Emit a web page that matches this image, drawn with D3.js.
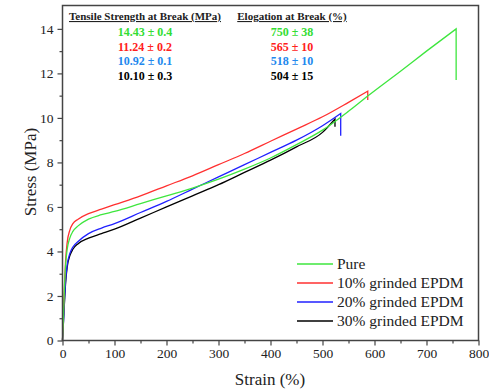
<!DOCTYPE html>
<html>
<head>
<meta charset="utf-8">
<script src="https://cdn.jsdelivr.net/npm/d3@7"></script>
<style>
  html, body { margin: 0; padding: 0; background: #fff; }
  svg text { font-family: "Liberation Serif", "Times New Roman", serif; }
</style>
</head>
<body>
<div id="chart"></div>
<script>
// Stress-strain curves, values
const seriesNames = ["Pure", "10% grinded EPDM", "20% grinded EPDM", "30% grinded EPDM"];
const seriesColors = ["#3ee63e", "#ff3030", "#2020ff", "#000000"];
const textColors = ["#33dd33", "#ff2020", "#2288ee", "#000000"];

const purePts = [[0,0],[2,1.2],[4,2.5],[6,3.4],[9,4.1],[14,4.6],[20,4.9],[30,5.15],[50,5.45],[75,5.65],[100,5.8],[150,6.15],[200,6.5],[250,6.85],[300,7.25],[350,7.7],[400,8.2],[450,8.8],[500,9.45],[550,10.3],[585,10.95],[650,12.1],[700,13.0],[757,14.0]];
const g10Pts = [[0,0],[2,1.3],[4,2.6],[6,3.6],[9,4.4],[14,4.95],[20,5.25],[30,5.45],[50,5.7],[75,5.9],[100,6.1],[150,6.5],[200,6.95],[250,7.4],[300,7.9],[350,8.4],[400,8.95],[450,9.5],[500,10.05],[550,10.7],[587,11.2]];
const g20Pts = [[0,0],[2,0.9],[4,1.9],[6,2.7],[9,3.4],[14,3.9],[20,4.2],[30,4.45],[50,4.8],[75,5.05],[100,5.25],[150,5.75],[200,6.25],[250,6.8],[300,7.35],[350,7.9],[400,8.45],[450,9.0],[500,9.65],[535,10.2]];
const g30Pts = [[0,0],[2,0.9],[4,1.8],[6,2.6],[9,3.3],[14,3.8],[20,4.1],[30,4.35],[50,4.6],[75,4.8],[100,5.0],[150,5.5],[200,6.0],[250,6.5],[300,7.0],[350,7.55],[400,8.1],[450,8.7],[500,9.35],[524,9.95]];
// stress after the break drop
const breakDrop = [11.7, 10.8, 9.2, 9.6];

const strengthLabels = ["14.43 \u00b1 0.4", "11.24 \u00b1 0.2", "10.92 \u00b1 0.1", "10.10 \u00b1 0.3"];
const elongLabels = ["750 \u00b1 38", "565 \u00b1 10", "518 \u00b1 10", "504 \u00b1 15"];

const xTicks = [0, 100, 200, 300, 400, 500, 600, 700, 800];
const yTicks = [0, 2, 4, 6, 8, 10, 12, 14];

const width = 489, height = 389;
const margin = {left: 62.5, right: 10.5, top: 5.5, bottom: 48.5};
const serif = "'Liberation Serif', 'Times New Roman', serif";

const svg = d3.select("#chart").append("svg")
  .attr("width", width)
  .attr("height", height);

const x = d3.scaleLinear().domain([0, 800]).range([margin.left, width - margin.right]);
const y = d3.scaleLinear().domain([0, 15.05]).range([height - margin.bottom, margin.top]);

// curves
const line = d3.line()
  .x(d => x(d[0]))
  .y(d => y(d[1]))
  .curve(d3.curveMonotoneX);

const allSeries = [purePts, g10Pts, g20Pts, g30Pts];
// draw in reverse so pure sits on top
[3, 2, 1, 0].forEach(i => {
  const pts = allSeries[i];
  const last = pts[pts.length - 1];
  svg.append("path")
    .attr("d", line(pts) + "L" + x(last[0]) + "," + y(breakDrop[i]))
    .attr("fill", "none")
    .attr("stroke", seriesColors[i])
    .attr("stroke-width", 1.3);
});

// frame
svg.append("rect")
  .attr("x", margin.left)
  .attr("y", margin.top)
  .attr("width", width - margin.left - margin.right)
  .attr("height", height - margin.top - margin.bottom)
  .attr("fill", "none")
  .attr("stroke", "#444")
  .attr("stroke-width", 1.5);

// x axis
svg.append("g")
  .attr("transform", `translate(0,${height - margin.bottom})`)
  .call(d3.axisBottom(x).tickValues(xTicks).tickSize(5).tickPadding(3));
svg.append("g")
  .attr("transform", `translate(0,${height - margin.bottom})`)
  .call(d3.axisBottom(x).tickValues(d3.range(50, 800, 100)).tickSize(3).tickFormat(""));

// y axis
svg.append("g")
  .attr("transform", `translate(${margin.left},0)`)
  .call(d3.axisLeft(y).tickValues(yTicks).tickSize(5).tickPadding(4));
svg.append("g")
  .attr("transform", `translate(${margin.left},0)`)
  .call(d3.axisLeft(y).tickValues(d3.range(1, 15, 2)).tickSize(3).tickFormat(""));

svg.selectAll(".domain").remove();
svg.selectAll("g[font-family]").attr("font-family", serif);
svg.selectAll(".tick line").attr("stroke", "#444").attr("stroke-width", 1.2);
svg.selectAll(".tick text")
  .attr("font-family", serif)
  .attr("font-size", 13.5)
  .attr("fill", "#222");

// axis titles
svg.append("text")
  .attr("x", 270)
  .attr("y", 385)
  .attr("text-anchor", "middle")
  .attr("font-family", serif)
  .attr("font-size", 17)
  .attr("fill", "#222")
  .text("Strain (%)");

svg.append("text")
  .attr("transform", "translate(36,172) rotate(-90)")
  .attr("text-anchor", "middle")
  .attr("font-family", serif)
  .attr("font-size", 17)
  .attr("fill", "#222")
  .text("Stress (MPa)");

// property table
const col1 = 145, col2 = 292;
svg.append("text")
  .attr("x", col1).attr("y", 20)
  .attr("text-anchor", "middle")
  .attr("font-family", serif)
  .attr("font-size", 11).attr("font-weight", "bold")
  .attr("text-decoration", "underline")
  .attr("fill", "#222")
  .text("Tensile Strength at Break (MPa)");
svg.append("text")
  .attr("x", col2).attr("y", 20)
  .attr("text-anchor", "middle")
  .attr("font-family", serif)
  .attr("font-size", 11).attr("font-weight", "bold")
  .attr("text-decoration", "underline")
  .attr("fill", "#222")
  .text("Elogation at Break (%)");

strengthLabels.forEach((t, i) => {
  svg.append("text")
    .attr("x", col1).attr("y", 36 + i * 14.5)
    .attr("text-anchor", "middle")
    .attr("font-family", serif)
    .attr("font-size", 12).attr("font-weight", "bold")
    .attr("fill", textColors[i])
    .text(t);
  svg.append("text")
    .attr("x", col2).attr("y", 36 + i * 14.5)
    .attr("text-anchor", "middle")
    .attr("font-family", serif)
    .attr("font-size", 12).attr("font-weight", "bold")
    .attr("fill", textColors[i])
    .text(elongLabels[i]);
});

// legend
const legend = svg.append("g").attr("transform", "translate(297,264)");
seriesNames.forEach((name, i) => {
  const row = legend.append("g").attr("transform", `translate(0,${i * 19})`);
  row.append("line")
    .attr("x1", 0).attr("x2", 36)
    .attr("y1", 0).attr("y2", 0)
    .attr("stroke", seriesColors[i])
    .attr("stroke-width", 1.3);
  row.append("text")
    .attr("x", 40).attr("y", 5)
    .attr("font-family", serif)
    .attr("font-size", 15.5)
    .attr("fill", "#222")
    .text(name);
});
</script>
</body>
</html>
